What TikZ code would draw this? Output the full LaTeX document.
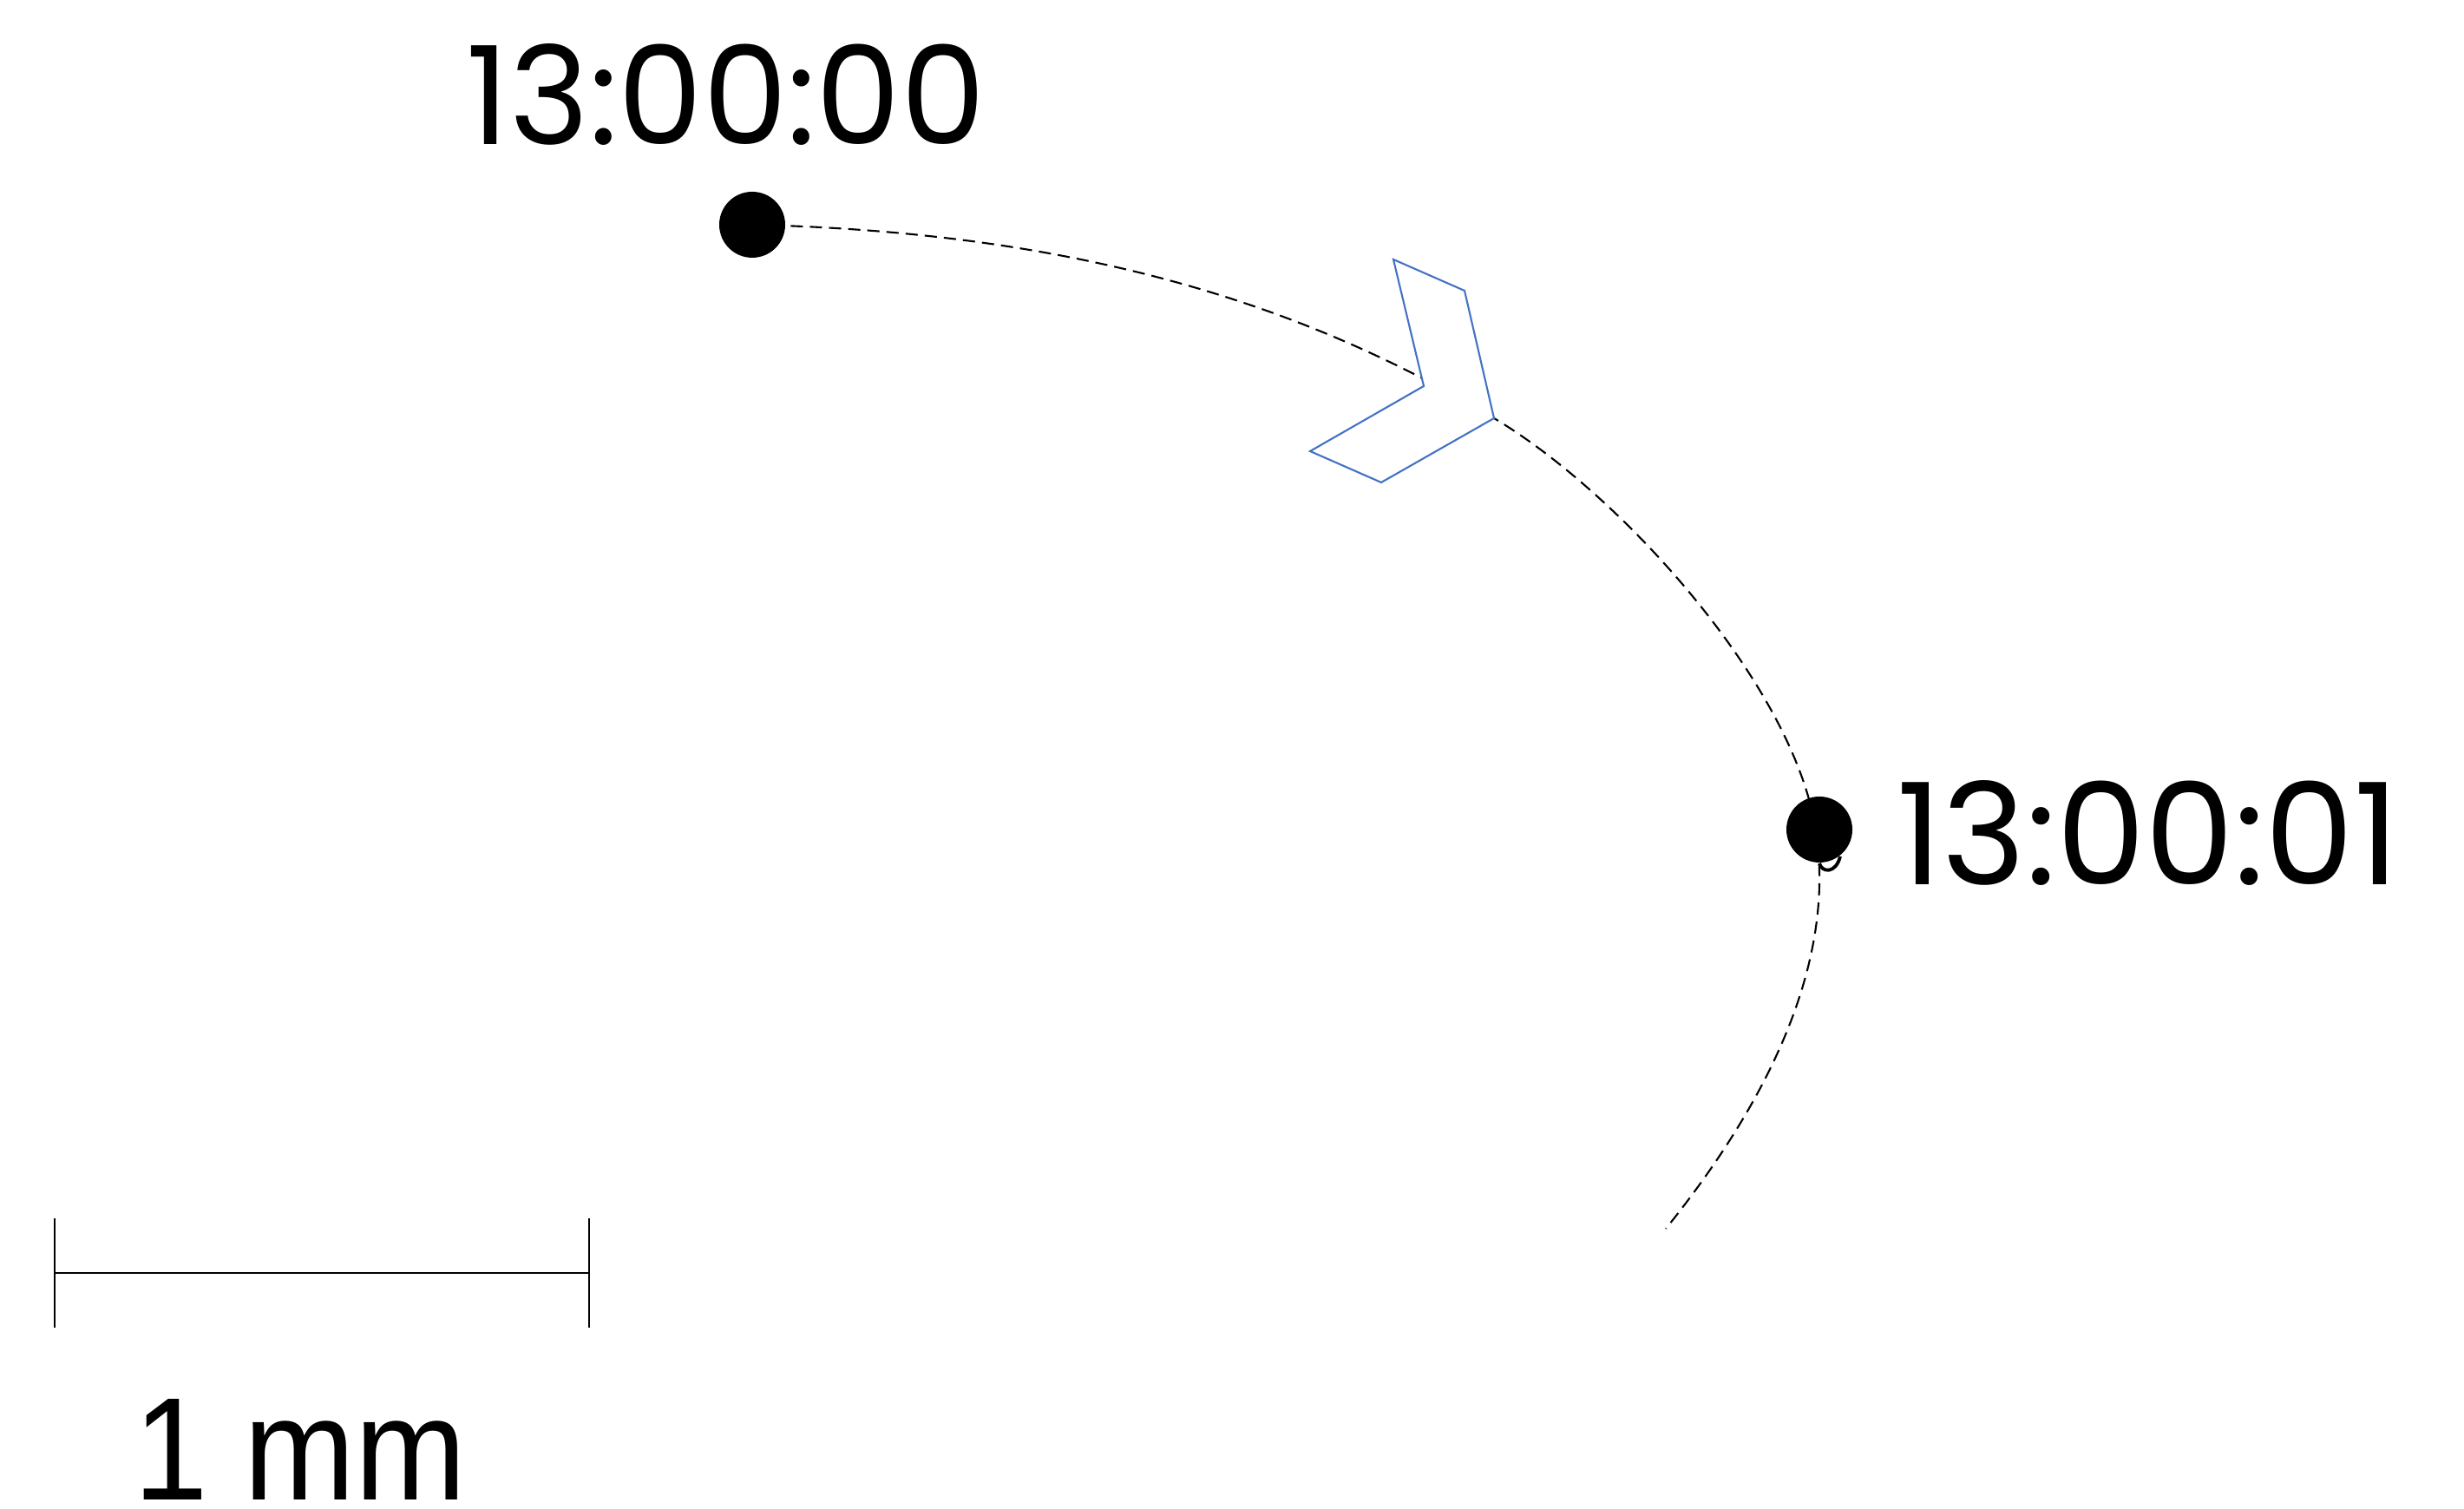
\documentclass[tikz,border=0pt]{standalone}
\usepackage{fontspec}
\setmainfont{Liberation Sans}
\newfontfamily\clockfont{Poppins}
\definecolor{chevblue}{HTML}{4472C4}
\begin{document}
\begin{tikzpicture}[
  dot/.style={circle, fill=black, inner sep=0pt, minimum size=0.76cm},
  track/.style={dashed, dash pattern=on 4pt off 2.3pt, line width=0.6pt, black},
  marker/.style={draw=chevblue, fill=white, line width=0.6pt, line join=miter},
  scalebar/.style={line width=0.6pt, black},
  stamp/.style={inner sep=0pt, anchor=center},
]
\useasboundingbox (0,0) rectangle (28.4,17.39);

% sampled positions
\coordinate (q0) at (8.67,14.80);
\coordinate (q1) at (20.93,7.81);
\coordinate (tip) at (17.22,12.57);
\coordinate (tend) at (19.20,3.23);

% the trajectory
\draw[track] (q0) .. controls (12.50,14.71) and (15.08,13.85) .. (tip)
                  .. controls (18.68,11.70) and (20.68,9.49) .. (q1)
                  .. controls (21.18,6.18) and (20.24,4.52) .. (tend);

% direction marker
\coordinate (c1) at (16.06,14.40);
\coordinate (c2) at (16.88,14.04);
\coordinate (c4) at (15.92,11.83);
\coordinate (c5) at (15.10,12.19);
\coordinate (c6) at (16.41,12.94);
\draw[marker] (c1) -- (c2) -- (tip) -- (c4) -- (c5) -- (c6) -- cycle;

% position dots
\node[dot] (p0) at (q0) {};
\node[dot] (p1) at (20.97,7.83) {};
\draw[line width=1.1pt] (20.97,7.44) .. controls (21.00,7.33) and (21.16,7.32) .. (21.21,7.52);

% time stamps
\node[stamp] (s0) at (8.37,16.30) {\resizebox{5.98cm}{1.16cm}{\clockfont 13:00:00}};
\node[stamp] (s1) at (24.76,7.79) {\resizebox{5.79cm}{1.20cm}{\clockfont 13:00:01}};

% scale bar
\coordinate (b0) at (0.63,2.72);
\coordinate (b1) at (6.79,2.72);
\draw[scalebar] (b0) -- (b1);
\draw[scalebar] (0.63,3.35) -- (0.63,2.09);
\draw[scalebar] (6.79,3.35) -- (6.79,2.09);
\node[stamp] (len) at (3.46,0.68) {\resizebox{3.84cm}{1.16cm}{1 mm}};
\end{tikzpicture}
\end{document}
